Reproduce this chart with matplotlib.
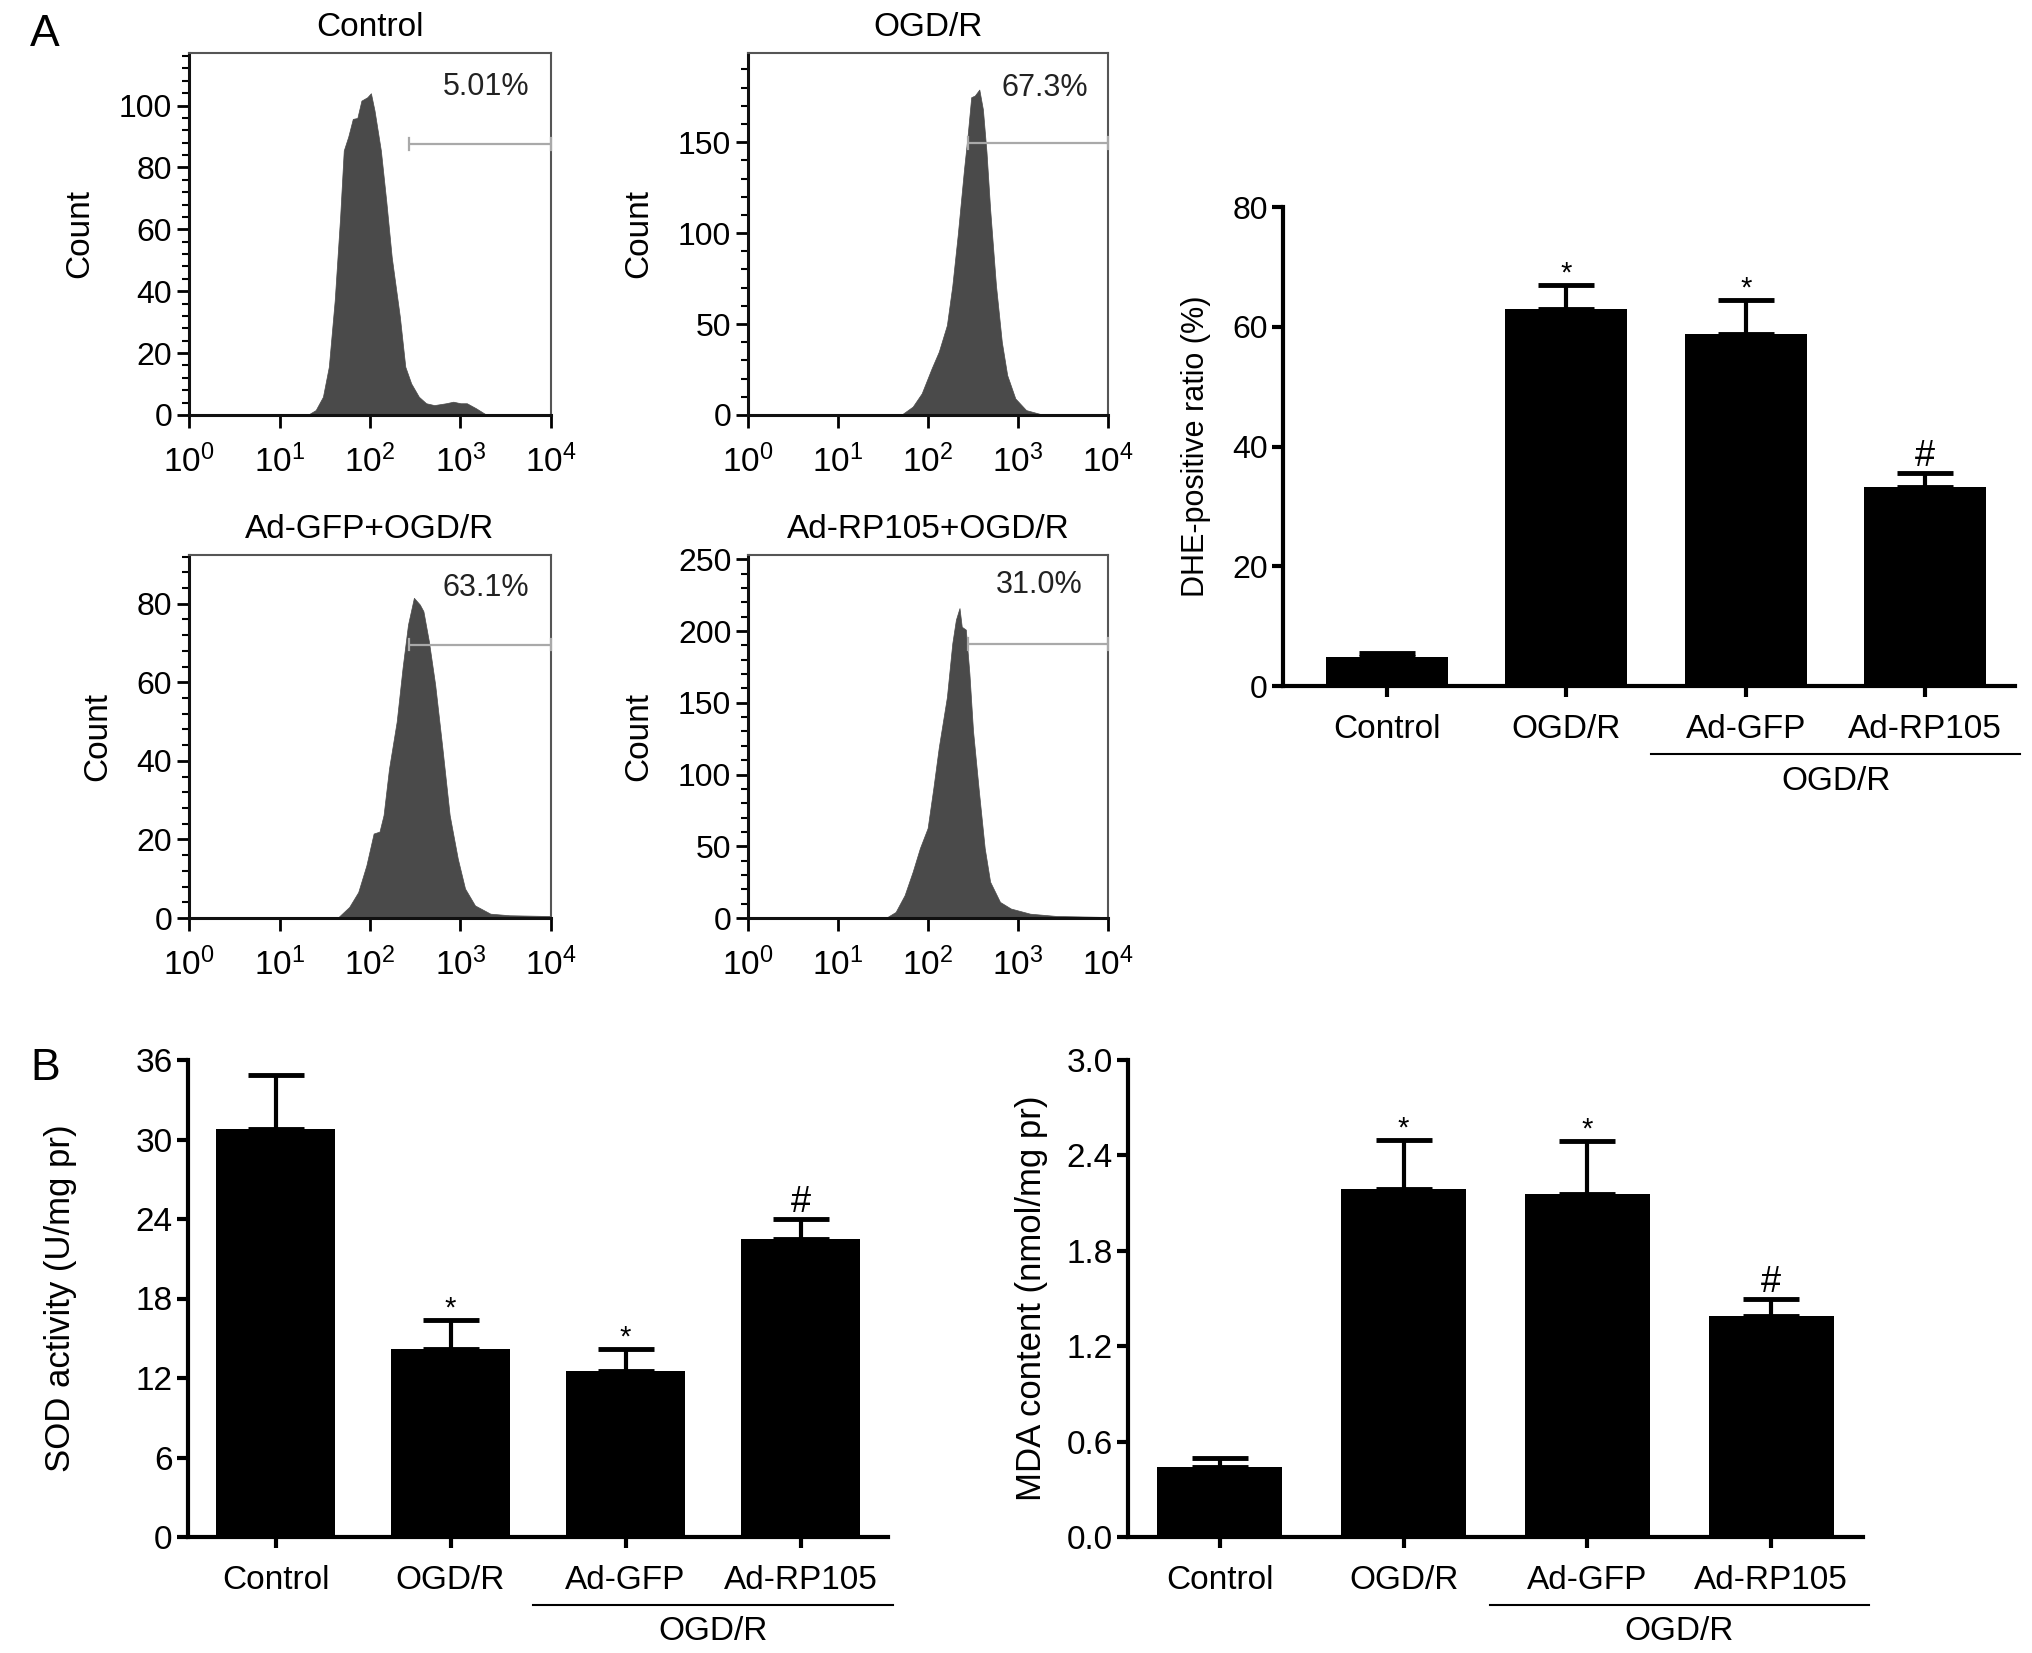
import numpy as np
import matplotlib
matplotlib.use('Agg')
import matplotlib.pyplot as plt
from matplotlib.ticker import MultipleLocator, FixedLocator, NullFormatter, LogLocator

plt.rcParams['font.family'] = ['Liberation Sans', 'DejaVu Sans']
plt.rcParams['mathtext.fontset'] = 'custom'
plt.rcParams['mathtext.rm'] = 'Liberation Sans'
plt.rcParams['mathtext.it'] = 'Liberation Sans:italic'

# ---------------- data ----------------
hist_titles = ['Control', 'OGD/R', 'Ad-GFP+OGD/R', 'Ad-RP105+OGD/R']
hist_pct = ['5.01%', '67.3%', '63.1%', '31.0%']
hist_ymax = [117, 199, 92.4, 253]
hist_major = [20, 50, 20, 50]
hist_minor = [4, 10, 4, 10]
gate_level = [87.6, 149.6, 69.6, 190.8]
gate_start_log = [2.43, 2.44, 2.43, 2.44]
pct_pos = [(3.28, 106), (3.30, 180), (3.28, 84), (3.24, 232)]

ctrl_logx = [1.31, 1.40, 1.48, 1.545, 1.61, 1.67, 1.71, 1.76, 1.81, 1.86, 1.905, 1.97, 2.01,
             2.05, 2.12, 2.18, 2.24, 2.33, 2.39, 2.455, 2.54, 2.62, 2.71, 2.84, 2.92, 3.0,
             3.07, 3.17, 3.28, 3.34]
ctrl_count = [0, 1.6, 5.9, 15.6, 37, 64, 85.5, 90, 95.7, 96, 101.6, 102.7, 104,
              98.4, 85.5, 69, 51, 31.7, 15.6, 10.2, 5.9, 3.8, 3.2, 3.8, 4.3, 3.8,
              3.8, 2.2, 0.2, 0]

ogd_logx = [1.70, 1.83, 1.93, 2.04, 2.12, 2.21, 2.27, 2.33, 2.40, 2.44, 2.48, 2.52, 2.57,
            2.61, 2.65, 2.69, 2.755, 2.82, 2.88, 2.97, 3.09, 3.26, 3.35]
ogd_count = [0, 4.6, 11.9, 25.6, 34.8, 49.4, 71, 98.8, 135, 153.6, 174.7, 175.6, 178.9,
             168, 144.5, 113.4, 71.3, 40.2, 21.9, 9.1, 2.7, 0.4, 0]

gfp_logx = [1.64, 1.77, 1.87, 1.96, 2.04, 2.105, 2.15, 2.21, 2.295, 2.36, 2.42, 2.485, 2.55,
            2.59, 2.65, 2.72, 2.80, 2.88, 2.97, 3.05, 3.16, 3.33, 3.54, 4.0]
gfp_count = [0, 2.8, 6.6, 13.4, 21.5, 22, 26.2, 38, 50, 63.7, 74.7, 81.5, 79.8,
             78.1, 70.5, 59.4, 43.2, 26.2, 15.1, 7.5, 3.2, 1.1, 0.7, 0.5]

rp_logx = [1.53, 1.64, 1.74, 1.83, 1.91, 1.996, 2.06, 2.12, 2.21, 2.27, 2.31, 2.35, 2.375,
           2.42, 2.46, 2.50, 2.565, 2.63, 2.69, 2.80, 2.92, 3.135, 3.43, 4.0]
rp_count = [0, 4.2, 15.9, 32.3, 48.7, 62.7, 90.8, 119, 154, 191.5, 207.9, 216, 203,
            201, 170.4, 130.6, 88.5, 48.7, 25.3, 11.2, 6.6, 3, 1.4, 0.7]

hist_logx = [ctrl_logx, ogd_logx, gfp_logx, rp_logx]
hist_count = [ctrl_count, ogd_count, gfp_count, rp_count]

groups = ['Control', 'OGD/R', 'Ad-GFP', 'Ad-RP105']

dhe_mean = [4.9, 62.9, 58.8, 33.3]
dhe_err = [0.6, 4.1, 5.7, 2.3]
dhe_mark = ['', '*', '*', '#']

sod_mean = [30.8, 14.2, 12.5, 22.5]
sod_err = [4.1, 2.2, 1.7, 1.5]
sod_mark = ['', '*', '*', '#']

mda_mean = [0.44, 2.19, 2.16, 1.39]
mda_err = [0.06, 0.31, 0.33, 0.11]
mda_mark = ['', '*', '*', '#']

# ---------------- figure ----------------
W, H = 2032, 1653
fig = plt.figure(figsize=(W / 100, H / 100), dpi=100)


def ax_px(l, t, r, b):
    return fig.add_axes([l / W, 1 - b / H, (r - l) / W, (b - t) / H])


hist_boxes = [(189, 53, 551, 415), (748, 53, 1108, 415),
              (189, 555, 551, 918), (748, 555, 1108, 918)]

for i in range(4):
    ax = ax_px(*hist_boxes[i])
    lx = np.array(hist_logx[i])
    ax.fill_between(10 ** lx, hist_count[i], 0, color='#4a4a4a', lw=0.5, edgecolor='#4a4a4a')
    ax.set_xscale('log')
    ax.set_xlim(1, 1e4)
    ax.set_ylim(0, hist_ymax[i])
    g0 = 10 ** gate_start_log[i]
    lv = gate_level[i]
    cap = hist_ymax[i] * 0.016
    gc = '#a9a9a9'
    ax.plot([g0, 1e4], [lv, lv], color=gc, lw=1.6, solid_capstyle='butt', zorder=3)
    ax.plot([g0, g0], [lv - cap, lv + cap], color=gc, lw=1.6, zorder=3)
    ax.plot([1e4, 1e4], [lv - cap, lv + cap], color=gc, lw=1.6, zorder=3, clip_on=False)
    ax.text(10 ** pct_pos[i][0], pct_pos[i][1], hist_pct[i], ha='center', va='center',
            fontsize=22, color='#222222')
    ax.set_title(hist_titles[i], fontsize=24, pad=12)
    ax.set_ylabel('Count', fontsize=24, labelpad=17)
    ax.yaxis.set_major_locator(MultipleLocator(hist_major[i]))
    ax.yaxis.set_minor_locator(MultipleLocator(hist_minor[i]))
    ax.xaxis.set_major_locator(FixedLocator([1, 10, 100, 1000, 10000]))
    ax.xaxis.set_minor_locator(LogLocator(base=10, subs=np.arange(2, 10)))
    ax.xaxis.set_minor_formatter(NullFormatter())
    ax.set_xticklabels([r'$\mathregular{10^{%d}}$' % k for k in range(5)])
    ax.tick_params(axis='both', which='major', direction='out', length=9, width=2,
                   labelsize=23, pad=3)
    ax.tick_params(axis='both', which='minor', direction='out', length=5, width=1.5)
    ax.tick_params(axis='x', which='major', pad=12, labelsize=24)
    for s in ['left', 'bottom']:
        ax.spines[s].set_linewidth(2.2)
        ax.spines[s].set_color('#111111')
    for s in ['top', 'right']:
        ax.spines[s].set_linewidth(1.5)
        ax.spines[s].set_color('#555555')

fig.text(30 / W, 1 - 35 / H, 'A', fontsize=32, ha='left', va='center')
fig.text(30 / W, 1 - 1069 / H, 'B', fontsize=32, ha='left', va='center')


def barchart(box, xlim_left, mean, err, marks, ylim, ystep, ylabel, fmt,
             ytick_fs, ylabel_fs, ylabel_pad):
    l, t, r, b = box
    ax = ax_px(*box)
    hpx = b - t
    x = np.arange(len(groups))
    ax.bar(x, mean, width=0.68, color='black', zorder=2)
    ax.errorbar(x, mean, yerr=[np.zeros(len(mean)), err], fmt='none', ecolor='black',
                elinewidth=3, capsize=20, capthick=3.5, zorder=3)
    for xi, m, e, mk in zip(x, mean, err, marks):
        if mk:
            fs = 21 if mk == '*' else 26
            ax.annotate(mk, (xi, m + e), xytext=(0, -2 if mk == '*' else -1),
                        textcoords='offset points', ha='center', va='bottom', fontsize=fs)
    ax.set_xlim(xlim_left, 3.5)
    ax.set_ylim(*ylim)
    ax.yaxis.set_major_locator(MultipleLocator(ystep))
    ax.yaxis.set_major_formatter(plt.FuncFormatter(lambda v, p: fmt.format(v)))
    ax.set_xticks(x)
    ax.set_xticklabels(groups)
    ax.tick_params(axis='both', direction='out', length=8, width=3, pad=3)
    ax.tick_params(axis='y', labelsize=ytick_fs)
    ax.tick_params(axis='x', pad=12, labelsize=24)
    for s in ['top', 'right']:
        ax.spines[s].set_visible(False)
    for s in ['left', 'bottom']:
        ax.spines[s].set_linewidth(3)
    ax.set_ylabel(ylabel, fontsize=ylabel_fs, labelpad=ylabel_pad)
    ly = -68 / hpx
    ax.plot([1.47, 3.53], [ly, ly], transform=ax.get_xaxis_transform(), color='black',
            lw=1.5, clip_on=False)
    ax.text(2.5, -95 / hpx, 'OGD/R', transform=ax.get_xaxis_transform(), ha='center',
            va='center', fontsize=24)
    return ax


barchart((1283, 207, 2015, 686), -0.58, dhe_mean, dhe_err, dhe_mark, (0, 80), 20,
         'DHE-positive ratio (%)', '{:.0f}', 23, 22, 15)
barchart((188, 1060, 888, 1537), -0.5, sod_mean, sod_err, sod_mark, (0, 36), 6,
         'SOD activity (U/mg pr)', '{:.0f}', 24, 25, 42)
barchart((1128, 1060, 1863, 1537), -0.5, mda_mean, mda_err, mda_mark, (0, 3.0), 0.6,
         'MDA content (nmol/mg pr)', '{:.1f}', 24, 25, 13)

fig.savefig('out.png', dpi=100)
